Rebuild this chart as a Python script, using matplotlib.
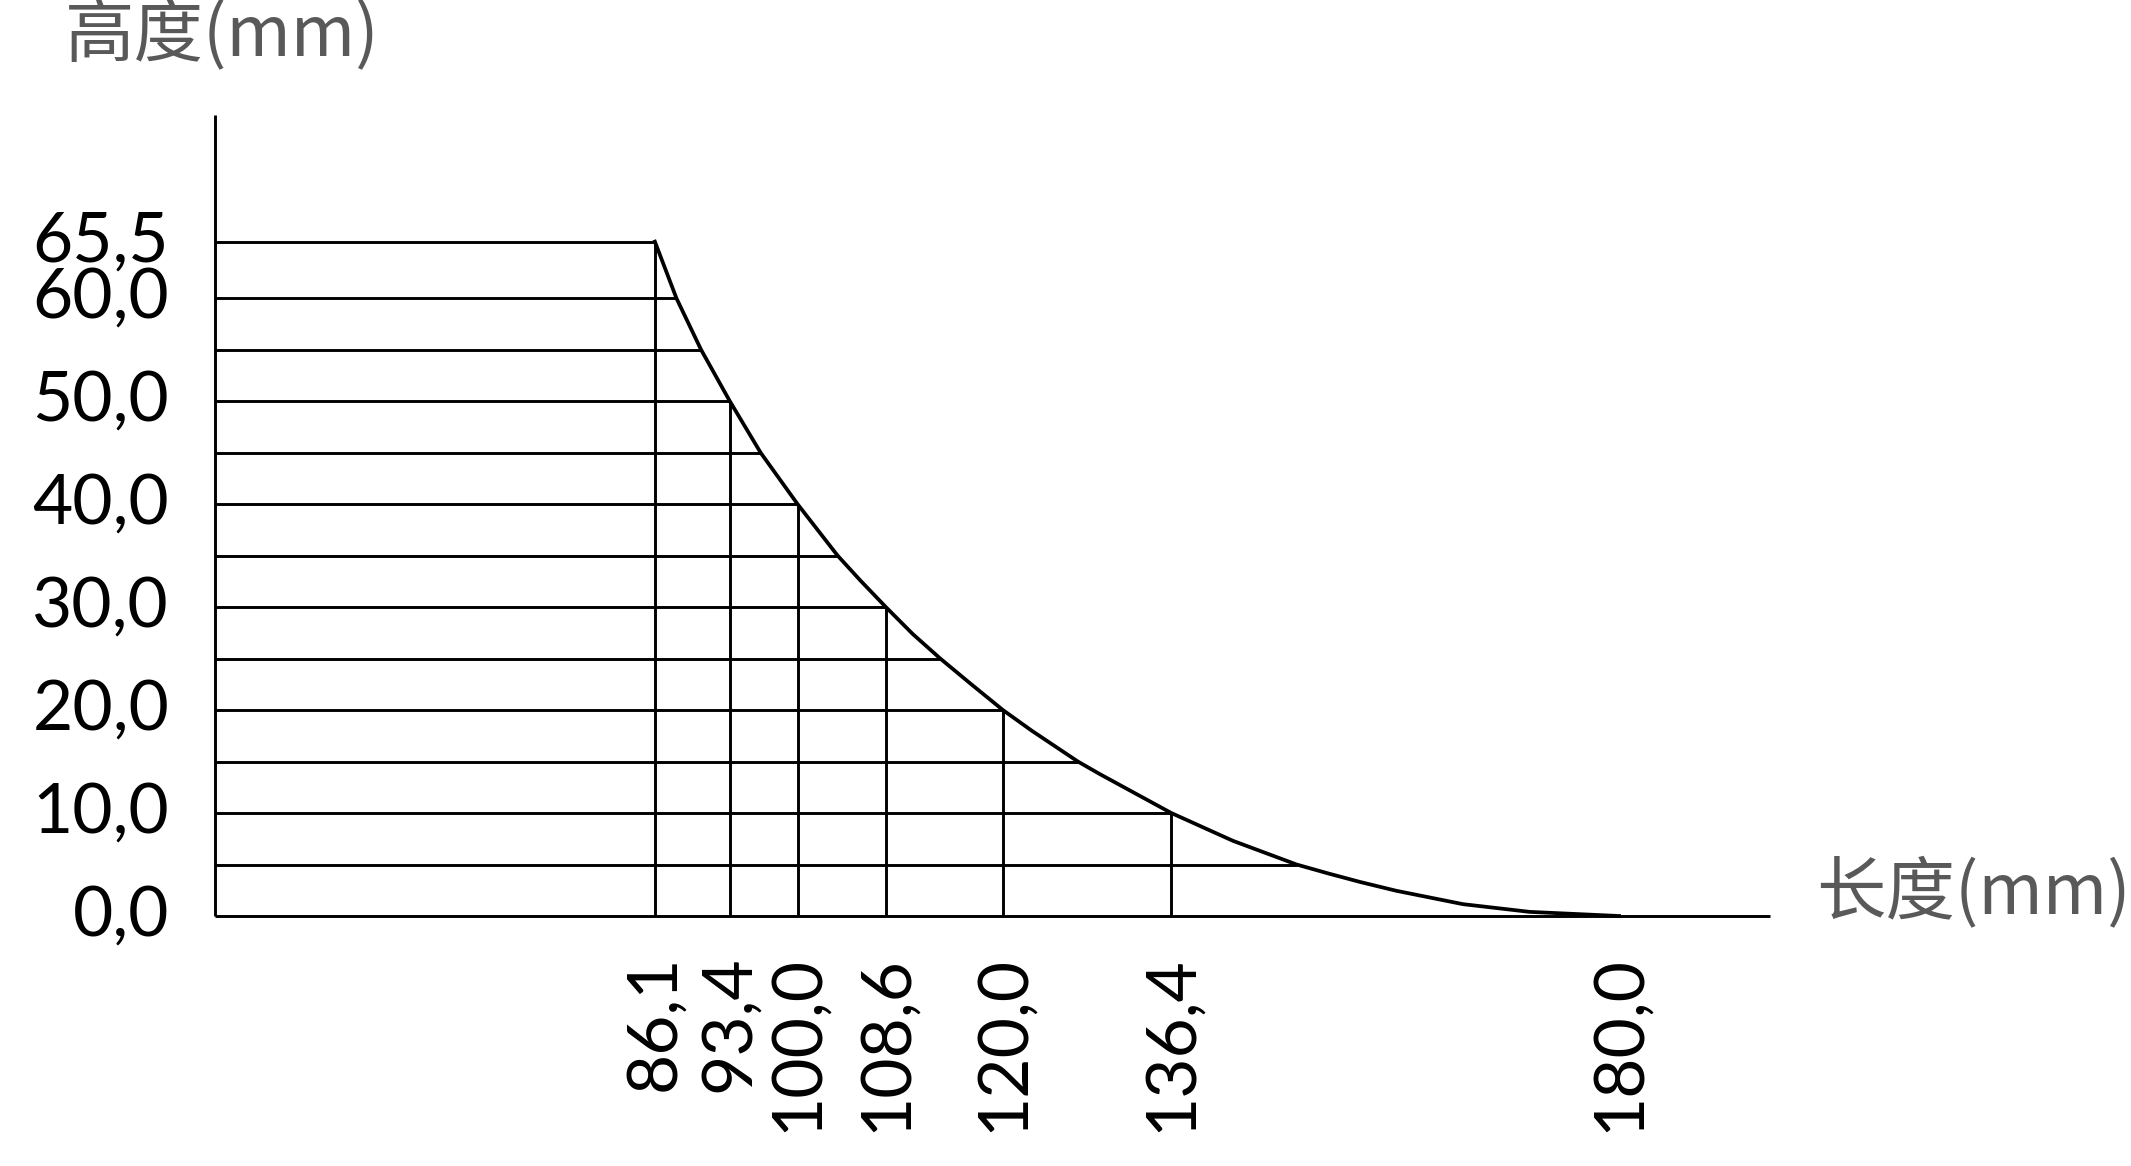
import matplotlib
matplotlib.use("Agg")
import matplotlib.pyplot as plt

# curve points (length mm, height mm)
curve_x = [86.1, 88.2, 90.6, 93.4, 96.4, 100.0, 103.9, 106.1, 108.6, 111.2, 113.9,
           116.8, 120.0, 122.8, 127.3, 129.4, 136.4, 142.4, 148.6, 151.8, 154.8,
           158.3, 164.8, 171.3, 180.0]
curve_y = [65.5, 60.0, 55.0, 50.0, 45.0, 40.0, 35.0, 32.6, 30.0, 27.4, 25.0,
           22.6, 20.0, 18.0, 15.0, 13.8, 10.0, 7.3, 5.0, 4.1, 3.3,
           2.45, 1.15, 0.4, 0.0]

# horizontal hatch lines: level and where each meets the curve
hatch_y = [65.5, 60, 55, 50, 45, 40, 35, 30, 25, 20, 15, 10, 5]
hatch_end = [86.1, 88.2, 90.6, 93.4, 96.4, 100.0, 103.9, 108.6, 113.9, 120.0, 127.3, 136.4, 148.6]

# vertical lines at the labelled lengths
vert_x = [86.1, 93.4, 100.0, 108.6, 120.0, 136.4]
vert_h = [65.5, 50.0, 40.0, 30.0, 20.0, 10.0]

xtick_vals = [86.1, 93.4, 100.0, 108.6, 120.0, 136.4, 180.0]
xtick_labels = ["86,1", "93,4", "100,0", "108,6", "120,0", "136,4", "180,0"]
ytick_vals = [0, 10, 20, 30, 40, 50, 60, 65.5]
ytick_labels = ["0,0", "10,0", "20,0", "30,0", "40,0", "50,0", "60,0", "65,5"]

x_left, x_right = 43.26, 194.7
y_top = 77.8

W, H = 2131, 1166
fig = plt.figure(figsize=(W / 100, H / 100), dpi=100)
ax = fig.add_axes([215 / W, 1 - 916 / H, (1770 - 215) / W, (916 - 115) / H])
ax.set_xlim(x_left, x_right)
ax.set_ylim(0, y_top)

lw = 2.1
for y, xe in zip(hatch_y, hatch_end):
    ax.plot([x_left, xe], [y, y], color="black", lw=lw, clip_on=False, solid_capstyle="butt")
for x, h in zip(vert_x, vert_h):
    ax.plot([x, x], [0, h], color="black", lw=lw, clip_on=False, solid_capstyle="butt")
ax.plot(curve_x, curve_y, color="black", lw=2.7, clip_on=False, solid_joinstyle="round")

# axis lines
ax.plot([x_left, x_right], [0, 0], color="black", lw=lw, clip_on=False, solid_capstyle="butt")
ax.plot([x_left, x_left], [0, y_top], color="black", lw=lw, clip_on=False, solid_capstyle="butt")

for s in ax.spines.values():
    s.set_visible(False)

tick_font = dict(family=["Lato", "DejaVu Sans"], weight="normal", size=50, color="black")
ax.set_xticks(xtick_vals)
ax.set_xticklabels(xtick_labels, rotation=90, ha="center", va="top", **tick_font)
ax.set_yticks(ytick_vals)
ax.set_yticklabels(ytick_labels, ha="right", va="center", **tick_font)
ax.tick_params(axis="both", length=0)
ax.tick_params(axis="x", pad=28)
ax.tick_params(axis="y", pad=33)

title_font = dict(family=["Noto Sans CJK SC", "DejaVu Sans"], size=50, color="#595959")
fig.text(65 / W, 1 - 36 / H, "高度(mm)", ha="left", va="center", **title_font)
fig.text(1816 / W, 1 - 893 / H, "长度(mm)", ha="left", va="center", **title_font)

fig.savefig("out.png", dpi=100, facecolor="white")
